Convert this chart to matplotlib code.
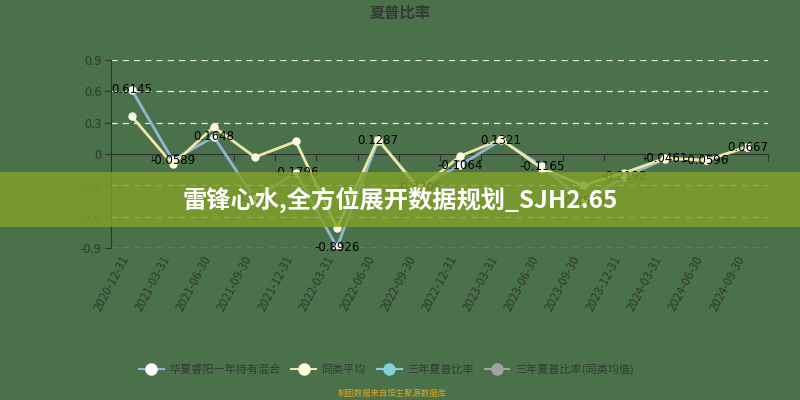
import matplotlib
matplotlib.use("Agg")
import matplotlib.pyplot as plt
from matplotlib.lines import Line2D
from matplotlib.patches import Rectangle
import matplotlib.transforms as mtransforms

plt.rcParams['font.family'] = ['Noto Sans CJK SC', 'DejaVu Sans']

title = "夏普比率"
dates = ["2020-12-31", "2021-03-31", "2021-06-30", "2021-09-30", "2021-12-31",
         "2022-03-31", "2022-06-30", "2022-09-30", "2022-12-31", "2023-03-31",
         "2023-06-30", "2023-09-30", "2023-12-31", "2024-03-31", "2024-06-30",
         "2024-09-30"]
fund = [0.6145, -0.0589, 0.1648, -0.4267, -0.1796, -0.8926, 0.1287, -0.3206,
        -0.1064, 0.1321, -0.1165, -0.4563, -0.2192, -0.0461, -0.0596, 0.0667]
peer_avg = [0.36, -0.10, 0.26, -0.03, 0.12, -0.71, 0.14, -0.34,
            -0.02, 0.14, -0.14, -0.30, -0.18, -0.04, -0.06, 0.07]
legend_names = ["华夏睿阳一年持有混合", "同类平均", "三年夏普比率", "三年夏普比率(同类均值)"]
y_ticks = [-0.9, -0.6, -0.3, 0, 0.3, 0.6, 0.9]
y_labels = ["-0.9", "-0.6", "-0.3", "0", "0.3", "0.6", "0.9"]
banner_text = "雷锋心水,全方位展开数据规划_SJH2.65"
footer_text = "制图数据来自恒生聚源数据库"

bg = "#4a714a"
fund_color = "#8fb6d2"
avg_color = "#efe7a6"
cyan_color = "#86d0d6"
gray_color = "#a3a3a3"
text_dark = "#2f3a2f"

fig = plt.figure(figsize=(8, 4), dpi=100, facecolor=bg)
ax = fig.add_axes([0.139, 0.38, 0.821, 0.47])
ax.set_facecolor(bg)

n = len(dates)
x = list(range(n))
ax.set_xlim(-0.5, n - 0.5)
ax.set_ylim(-0.9, 0.9)

# grid
for yv in y_ticks:
    if yv != 0:
        ax.axhline(yv, color="white", lw=0.9, ls=(0, (5, 4)), alpha=0.85, zorder=1)

# spines
for s in ["top", "right"]:
    ax.spines[s].set_visible(False)
ax.spines['left'].set_color("#333333")
ax.spines['left'].set_linewidth(0.8)
ax.spines['bottom'].set_position(('data', 0))
ax.spines['bottom'].set_color("#333333")
ax.spines['bottom'].set_linewidth(0.8)

ax.set_yticks(y_ticks)
ax.set_yticklabels(y_labels)
ax.tick_params(axis='y', length=4, color="#333333", labelsize=9, labelcolor=text_dark, pad=3)

bounds = [i - 0.5 for i in range(n + 1)]
ax.set_xticks(bounds)
ax.set_xticklabels([])
ax.tick_params(axis='x', length=5, color="#333333", direction='out')

sec = ax.secondary_xaxis(0)
sec.set_xticks(x)
sec.set_xticklabels(dates, rotation=62, ha='right', va='center', rotation_mode='anchor',
                    fontsize=8.5, color=text_dark)
sec.tick_params(length=0, pad=6)
sec.spines['bottom'].set_visible(False)
offset = mtransforms.ScaledTranslation(-6 / 100, 0, fig.dpi_scale_trans)
for lab in sec.get_xticklabels():
    lab.set_transform(lab.get_transform() + offset)

# lines
ax.plot(x, fund, color=fund_color, lw=2, marker='o', ms=5, mfc="white",
        mec="white", zorder=3, solid_joinstyle='round')
ax.plot(x, peer_avg, color=avg_color, lw=2, marker='o', ms=5, mfc="#fffbe2",
        mec="#fffbe2", zorder=4, solid_joinstyle='round')

for xi, v in zip(x, fund):
    ax.text(xi, v, f"{v:.4f}", ha='center', va='center', fontsize=8.5,
            color="black", zorder=6, family=['DejaVu Sans'])

fig.text(0.5, 0.968, title, ha='center', va='center', fontsize=11,
         fontweight='bold', color="#333a33")

handles = [
    Line2D([0], [0], color=fund_color, lw=1.5, marker='o', ms=8, mfc="white", mec="white"),
    Line2D([0], [0], color=avg_color, lw=1.5, marker='o', ms=8, mfc="#fffbe2", mec="#fffbe2"),
    Line2D([0], [0], color=cyan_color, lw=1.5, marker='o', ms=8, mfc=cyan_color, mec=cyan_color),
    Line2D([0], [0], color=gray_color, lw=1.5, marker='o', ms=8, mfc=gray_color, mec=gray_color),
]
leg = fig.legend(handles, legend_names, loc='center', bbox_to_anchor=(0.483, 0.077),
                 ncol=4, frameon=False, fontsize=8, handlelength=2.2,
                 columnspacing=1.0, handletextpad=0.5)
for t in leg.get_texts():
    t.set_color("#333a33")

fig.text(0.49, 0.016, footer_text, ha='center', va='center', fontsize=6, color="#d9a520")

# watermark banner
fig.patches.append(Rectangle((0, 0.4325), 1, 0.1375, transform=fig.transFigure,
                             facecolor="#82a02a", alpha=0.82, zorder=10))
fig.text(0.5, 0.5, banner_text, ha='center', va='center', fontsize=17.5,
         fontweight='bold', color="white", zorder=11)

fig.savefig("out.png", dpi=100, facecolor=bg)
